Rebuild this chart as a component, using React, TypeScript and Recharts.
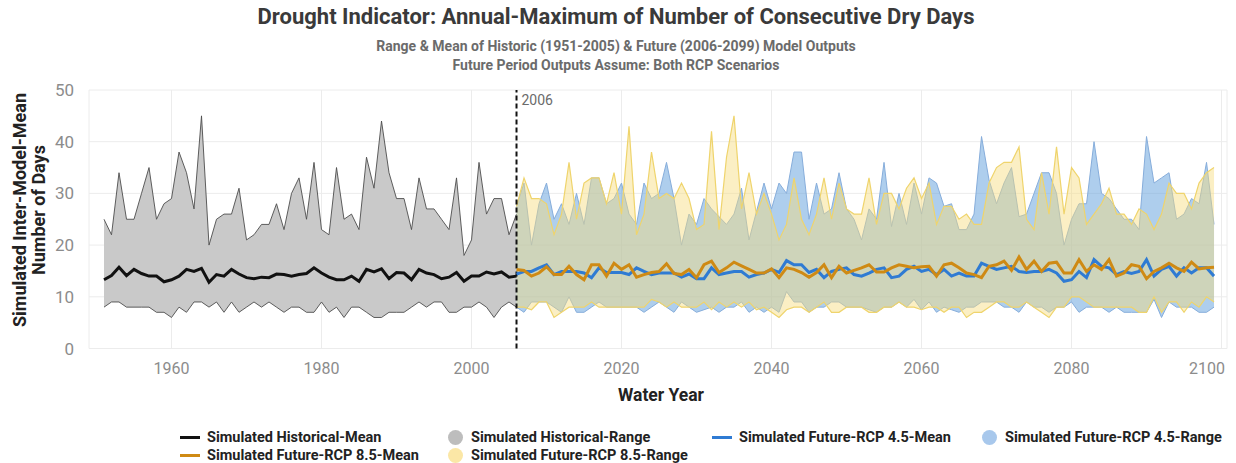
import { ComposedChart, Area, Line, XAxis, YAxis, CartesianGrid, ReferenceLine } from 'recharts'

// historic period 1951-2006, future period 2006-2099
const histStart = 1951
const futStart = 2006

const histMax = [25, 22, 34, 25, 25, 30, 35, 25, 28, 29, 38, 34, 27, 45, 20, 25, 26, 26, 31, 21, 22, 24, 24, 28, 23, 30, 33, 25, 36, 23, 22, 35, 25, 26, 23, 37, 31, 44, 34, 29, 29, 23, 33, 27, 27, 25, 23, 33, 18, 21, 36, 26, 29, 29, 22, 26]
const histMin = [8, 9, 9, 8, 8, 8, 8, 7, 7, 6, 8, 7, 9, 9, 8, 9, 7, 9, 7, 8, 9, 8, 9, 8, 7, 8, 8, 7, 7, 9, 7, 8, 6, 8, 8, 7, 6, 6, 7, 7, 7, 8, 9, 8, 9, 9, 7, 7, 8, 8, 9, 8, 6, 8, 9, 8]
const histMean = [13.3, 14.1, 15.7, 14.1, 15.3, 14.5, 14.0, 14.0, 12.9, 13.3, 14.0, 15.3, 14.9, 15.5, 12.8, 14.3, 14.0, 15.3, 14.4, 13.7, 13.5, 13.8, 13.7, 14.4, 14.3, 14.0, 14.3, 14.5, 15.6, 14.6, 13.8, 13.3, 13.3, 14.0, 13.0, 15.3, 14.8, 15.4, 13.5, 14.7, 14.6, 13.3, 15.3, 14.6, 14.3, 13.5, 13.8, 14.7, 13.0, 14.0, 14.0, 14.8, 14.4, 14.8, 13.8, 14.0]

const rcp45Max = [
  27.5, 32, 20, 28, 32, 25, 28, 24, 30, 24, 33, 33, 28, 29, 32, 26, 24, 32, 29, 30, 36, 29, 20, 26, 24,
  29, 27, 25.5, 24, 26, 31, 21, 26.5, 32, 27, 32, 30, 38, 38, 25, 32, 26, 27, 34, 27, 25, 21, 27, 25, 36,
  23.6, 30, 24, 32, 26, 33, 32, 27.5, 28, 23, 23, 26, 41, 32.6, 28, 32, 35, 25.5, 26, 30, 34, 34, 30, 20,
  25, 28, 28, 40, 30, 29, 27, 25, 25, 23, 41, 32, 33, 34, 25, 26, 29, 28, 36, 24,
]
const rcp45Min = [
  8, 7, 9, 9, 9, 8, 7, 10, 7, 7, 8, 9, 8, 8, 8, 8, 8, 7, 8, 9, 8, 7, 9, 8, 7,
  7.5, 8, 7, 8, 8, 9, 7, 8, 7, 8, 7, 11, 9, 9, 7, 8, 8, 9, 9, 8, 8, 8, 7.5, 7, 8,
  8, 9, 8, 9.5, 7.5, 9, 7, 8, 7.5, 7, 8, 8, 9, 9, 9, 8, 8, 7, 9, 8, 8, 7, 8, 8,
  9, 7, 8, 8, 8, 7, 8, 7, 7, 7, 7, 9.5, 6, 9, 8, 8, 8, 7, 7, 8,
]
const rcp45Mean = [
  14.4, 14.9, 14.9, 15.6, 16.2, 14.3, 14.9, 14.9, 14.9, 14.6, 13.7, 15.6, 14.7, 14.7, 14.7, 14.3, 15.6, 14.9, 14.3, 14.6, 14.6, 14.6, 13.8, 14.4, 13.5,
  13.5, 15.6, 14.3, 14.6, 14.9, 14.9, 13.8, 14.3, 14.6, 15.3, 14.7, 17.0, 16.2, 16.2, 14.7, 15.3, 13.7, 14.9, 15.3, 15.6, 14.3, 14.0, 14.6, 15.3, 15.6,
  13.7, 14.0, 15.3, 15.9, 14.9, 15.3, 14.3, 15.3, 14.0, 14.6, 14.0, 14.0, 16.5, 15.9, 15.3, 15.6, 15.9, 14.9, 14.7, 14.9, 14.9, 15.3, 14.6, 13.0,
  13.3, 14.9, 13.7, 17.2, 15.9, 15.6, 14.3, 14.9, 14.5, 14.9, 17.2, 14.0, 15.3, 15.9, 14.0, 15.6, 14.6, 15.6, 15.6, 14.0,
]

const rcp85Max = [
  27.5, 33, 29, 29, 28, 22, 26, 36, 25, 32, 33, 33, 28, 34, 26, 43, 22, 26, 38, 29, 30, 29, 32, 29, 23,
  24, 42, 23, 37, 45, 27, 34, 26, 30, 26, 21, 24, 33, 25, 22, 26, 33, 25, 32, 27, 26, 26, 33, 24, 30,
  30, 27, 31, 33, 29, 32, 24, 27.5, 27.5, 25, 26, 24, 24, 32, 35, 36, 36, 39, 25, 23, 34, 26, 39, 26,
  35, 33, 24, 26, 28, 31, 26, 26, 24, 27, 26, 23, 26, 32, 30, 30, 27, 32, 34, 35,
]
const rcp85Min = [
  8, 8, 7.5, 9, 9, 6, 7, 8, 8, 8, 9, 8, 8, 8, 8, 8, 8, 8, 9.5, 9, 8, 9, 8, 8, 8,
  9, 7.5, 9, 8, 9, 8, 9, 7.5, 8, 7, 6, 7.5, 8, 8, 7, 8, 9, 7, 7, 8, 8, 8, 7, 7, 8,
  8, 9, 8, 8, 7.5, 8, 8, 7, 8, 8, 6, 7, 7, 8, 9, 9, 8, 8, 9, 8, 7, 6, 8, 8,
  10, 10, 9, 8, 8, 8, 8, 8, 8, 7, 7, 10, 7, 9, 9, 7, 9, 8, 10, 9,
]
const rcp85Mean = [
  15.3, 15.1, 14.0, 14.6, 15.8, 14.3, 14.3, 15.9, 14.3, 13.3, 16.2, 16.2, 14.0, 16.5, 15.3, 16.2, 13.8, 14.3, 14.7, 14.9, 16.4, 14.5, 14.3, 15.3, 13.7,
  16.2, 16.9, 14.7, 15.6, 16.7, 16.0, 15.3, 14.6, 14.6, 15.4, 13.7, 15.6, 15.3, 14.7, 13.8, 14.7, 16.2, 13.7, 15.9, 14.6, 15.1, 15.6, 16.2, 14.8, 14.8,
  15.6, 16.2, 15.9, 15.6, 15.8, 15.9, 14.0, 16.2, 16.5, 15.6, 14.6, 14.3, 13.7, 15.9, 16.2, 16.9, 15.1, 17.7, 15.3, 16.9, 14.9, 16.5, 16.7, 14.6,
  14.6, 17.2, 14.9, 16.2, 15.3, 17.2, 14.0, 14.6, 16.2, 15.9, 13.5, 14.9, 15.6, 16.5, 15.6, 14.9, 16.7, 15.4, 15.6, 15.7,
]

const xTicks = [1960, 1980, 2000, 2020, 2040, 2060, 2080, 2100]
const yTicks = [0, 10, 20, 30, 40, 50]

const C = {
  hist: '#111111',
  histFill: '#c9c9c9',
  histStroke: '#4d4d4d',
  r45: '#2f7bd3',
  r45Fill: '#5d9ddc',
  r45Stroke: '#86addb',
  r85: '#cf8a14',
  r85Fill: '#f7db7c',
  r85Stroke: '#efd46c',
}

const font = 'Roboto, "Noto Sans", sans-serif'

// one row per year, ranges as [min, max]
const lastYear = futStart + rcp45Mean.length - 1
const rows = []
for (let year = histStart; year <= lastYear; year++) {
  const h = year - histStart
  const f = year - futStart
  const row: any = { year }
  if (h < histMean.length) {
    row.histRange = [histMin[h], histMax[h]]
    row.histMean = histMean[h]
  }
  if (f >= 0) {
    row.r45Range = [rcp45Min[f], rcp45Max[f]]
    row.r45Mean = rcp45Mean[f]
    row.r85Range = [rcp85Min[f], rcp85Max[f]]
    row.r85Mean = rcp85Mean[f]
  }
  rows.push(row)
}

const XTick = ({ x, y, payload }: any) => (
  <text
    x={payload.value === 2100 ? x - 13 : x}
    y={y}
    dy="0.71em"
    textAnchor="middle"
    fill="#8c8c8c"
    fontSize={16}
    fontFamily={font}
  >
    {payload.value}
  </text>
)

const legendItems = [
  { label: 'Simulated Historical-Mean', kind: 'line', color: C.hist, x: 180, y: 437 },
  { label: 'Simulated Historical-Range', kind: 'dot', color: '#bdbdbd', x: 448, y: 437 },
  { label: 'Simulated Future-RCP 4.5-Mean', kind: 'line', color: C.r45, x: 712, y: 437 },
  { label: 'Simulated Future-RCP 4.5-Range', kind: 'dot', color: '#a8c8ec', x: 982, y: 437 },
  { label: 'Simulated Future-RCP 8.5-Mean', kind: 'line', color: C.r85, x: 180, y: 455 },
  { label: 'Simulated Future-RCP 8.5-Range', kind: 'dot', color: '#fbe7a6', x: 448, y: 455 },
]

export default function App() {
  return (
    <div style={{ position: 'absolute', left: 0, top: 0, width: 1236, height: 463, background: '#fff', fontFamily: font }}>
      <div style={{ position: 'absolute', top: 4, left: 0, width: 1232, textAlign: 'center', fontSize: 22, fontWeight: 700, color: '#3a3a3a' }}>
        Drought Indicator: Annual-Maximum of Number of Consecutive Dry Days
      </div>
      <div style={{ position: 'absolute', top: 37, left: 0, width: 1232, textAlign: 'center', fontSize: 14, fontWeight: 700, color: '#6b6b6b', lineHeight: '19px' }}>
        Range &amp; Mean of Historic (1951-2005) &amp; Future (2006-2099) Model Outputs
        <br />
        Future Period Outputs Assume: Both RCP Scenarios
      </div>

      <div
        style={{
          position: 'absolute', left: 29, top: 210, width: 300, transform: 'translate(-50%, -50%) rotate(-90deg)',
          textAlign: 'center', fontSize: 18, fontWeight: 700, color: '#222', lineHeight: '19px',
        }}
      >
        Simulated Inter-Model-Mean
        <br />
        Number of Days
      </div>

      <div style={{ position: 'absolute', left: 0, top: 0 }}>
        <ComposedChart width={1236} height={463} data={rows} margin={{ top: 90, right: 9, bottom: 84.5, left: 0 }}>
          <CartesianGrid stroke="#ececec" strokeWidth={1} />
          <XAxis
            dataKey="year"
            type="number"
            domain={[1949, 2100.73]}
            allowDataOverflow
            ticks={xTicks}
            tick={<XTick />}
            axisLine={false}
            tickLine={false}
            tickSize={0}
            tickMargin={14}
            height={30}
          />
          <YAxis
            type="number"
            domain={[0, 50]}
            ticks={yTicks}
            axisLine={false}
            tickLine={false}
            tickSize={0}
            tickMargin={15}
            width={89}
            tick={{ fill: '#8c8c8c', fontSize: 17, fontFamily: font }}
          />
          <Area
            type="linear"
            dataKey="histRange"
            fill={C.histFill}
            fillOpacity={1}
            stroke={C.histStroke}
            strokeWidth={0.9}
            dot={false}
            activeDot={false}
            isAnimationActive={false}
          />
          <Area
            type="linear"
            dataKey="r45Range"
            fill={C.r45Fill}
            fillOpacity={0.5}
            stroke={C.r45Stroke}
            strokeWidth={1}
            dot={false}
            activeDot={false}
            isAnimationActive={false}
          />
          <Area
            type="linear"
            dataKey="r85Range"
            fill={C.r85Fill}
            fillOpacity={0.45}
            stroke={C.r85Stroke}
            strokeWidth={1.2}
            dot={false}
            activeDot={false}
            isAnimationActive={false}
          />
          <ReferenceLine
            x={2006}
            stroke="#111"
            strokeWidth={2}
            strokeDasharray="5 3"
            label={{ value: '2006', position: 'insideTopLeft', offset: 5, fill: '#6b6b6b', fontSize: 14, fontFamily: font }}
          />
          <Line type="linear" dataKey="histMean" stroke={C.hist} strokeWidth={3} dot={false} activeDot={false} isAnimationActive={false} />
          <Line type="linear" dataKey="r45Mean" stroke={C.r45} strokeWidth={3} dot={false} activeDot={false} isAnimationActive={false} />
          <Line type="linear" dataKey="r85Mean" stroke={C.r85} strokeWidth={3} dot={false} activeDot={false} isAnimationActive={false} />
        </ComposedChart>
      </div>

      <div style={{ position: 'absolute', left: 0, top: 385, width: 1322, textAlign: 'center', fontSize: 17.5, fontWeight: 700, color: '#222' }}>
        Water Year
      </div>

      {legendItems.map((it) => (
        <div key={it.label} style={{ position: 'absolute', left: it.x, top: it.y - 9, height: 18, display: 'flex', alignItems: 'center' }}>
          {it.kind === 'line' ? (
            <div style={{ width: 20, height: 3, background: it.color, marginRight: 7 }} />
          ) : (
            <div style={{ width: 15, height: 15, borderRadius: '50%', background: it.color, marginRight: 8 }} />
          )}
          <span style={{ fontSize: 14.5, fontWeight: 700, color: '#222', whiteSpace: 'nowrap' }}>{it.label}</span>
        </div>
      ))}
    </div>
  )
}
